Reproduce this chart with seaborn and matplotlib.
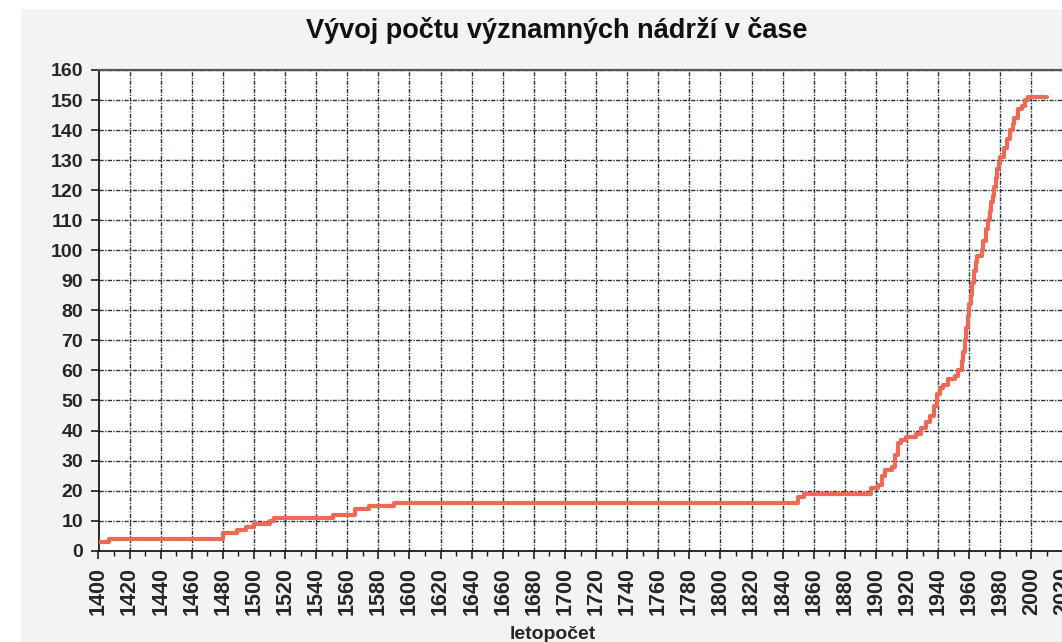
import numpy as np
import pandas as pd
import matplotlib
matplotlib.use("Agg")
import matplotlib.pyplot as plt
from matplotlib.ticker import MultipleLocator
from matplotlib.patches import Rectangle
import seaborn as sns

# rok a kumulativni pocet vyznamnych nadrzi
roky = [1400, 1407, 1480, 1489, 1495, 1500, 1510, 1513, 1551, 1565, 1574, 1590,
        1850, 1854, 1897, 1901, 1904, 1906, 1910, 1912, 1914, 1916, 1919, 1926,
        1929, 1932, 1935, 1937, 1939, 1941, 1943, 1946, 1951, 1953, 1955, 1956,
        1957, 1958, 1959, 1960, 1961, 1962, 1963, 1964, 1965, 1968, 1969, 1971,
        1972, 1973, 1974, 1975, 1976, 1977, 1978, 1979, 1980, 1982, 1984, 1986,
        1988, 1989, 1991, 1994, 1996, 1998, 2010]
pocet = [3, 4, 6, 7, 8, 9, 10, 11, 12, 14, 15, 16,
         18, 19, 21, 22, 25, 27, 28, 32, 36, 37, 38, 39,
         41, 43, 45, 48, 52, 54, 55, 57, 58, 60, 63, 66,
         70, 74, 78, 82, 85, 89, 93, 96, 98, 100, 103, 107,
         110, 113, 116, 118, 121, 124, 127, 129, 131, 134, 137, 140,
         142, 144, 147, 148, 150, 151, 151]

df = pd.DataFrame({"rok": roky, "pocet": pocet})

sns.set_theme(style="ticks")
plt.rcParams['font.family'] = ['Liberation Sans', 'DejaVu Sans']

W, H = 1062, 642
fig = plt.figure(figsize=(W / 100, H / 100), dpi=100, facecolor="white")
# sedy ramecek grafu
fig.patches.append(Rectangle((21 / W, 0), 1, 1 - 9 / H, transform=fig.transFigure,
                             facecolor="#f3f3f3", edgecolor="none", zorder=-10))

left, right = 98.5, 1062.6
top, bottom = 70, 550.7
ax = fig.add_axes([left / W, 1 - bottom / H, (right - left) / W, (bottom - top) / H])
ax.set_zorder(1)
ax.set_facecolor("white")

sns.lineplot(data=df, x="rok", y="pocet", ax=ax, color="#ee6a55", linewidth=3.0,
             drawstyle="steps-post", zorder=3)

ax.set_xlim(1400, 2020)
ax.set_ylim(0, 160)
ax.xaxis.set_major_locator(MultipleLocator(20))
ax.xaxis.set_minor_locator(MultipleLocator(10))
ax.yaxis.set_major_locator(MultipleLocator(10))

ax.grid(True, which="major", color="#25323a", linestyle=(0, (3, 1, 1, 1)), linewidth=1.0)
ax.set_axisbelow(True)

for s in ["left", "bottom"]:
    ax.spines[s].set_color("#1a1a1a")
    ax.spines[s].set_linewidth(1.3)
ax.spines["top"].set_color("#555555")
ax.spines["top"].set_linewidth(1.6)
ax.spines["right"].set_visible(False)

ax.tick_params(axis="both", which="major", direction="out", length=6, width=1.2,
               color="#1a1a1a")
ax.tick_params(axis="x", which="major", pad=6, labelsize=15.5)
ax.tick_params(axis="y", which="major", pad=5, labelsize=14)
ax.tick_params(axis="x", which="minor", direction="out", length=3.5, width=1.0, color="#1a1a1a")
for lbl in ax.get_xticklabels():
    lbl.set_rotation(90)
    lbl.set_fontweight("bold")
for lbl in ax.get_yticklabels():
    lbl.set_fontweight("bold")

ax.set_ylabel("")
ax.set_xlabel("letopočet", fontsize=14, fontweight="bold", va="top")
ax.xaxis.set_label_coords((553 - left) / (right - left), -(626 - bottom) / (bottom - top))

fig.text(557 / W, 1 - 31 / H, "Vývoj počtu významných nádrží v čase",
         ha="center", va="center", fontsize=19.5, fontweight="bold", color="#111111")

fig.savefig("out.png", dpi=100, facecolor=fig.get_facecolor())
